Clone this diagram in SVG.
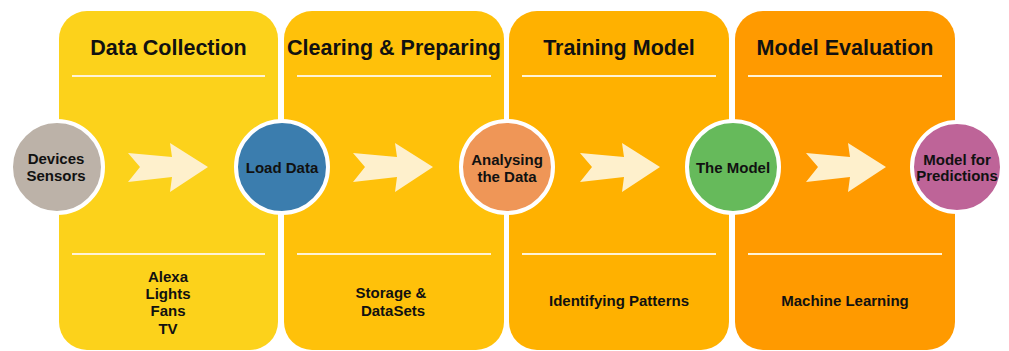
<svg xmlns="http://www.w3.org/2000/svg" width="1009" height="351" viewBox="0 0 1009 351">
<defs>
<style>
.hdr{font-family:"Liberation Sans",Arial,sans-serif;font-weight:bold;font-size:21.5px;fill:#111;text-anchor:middle}
.lbl{font-family:"Liberation Sans",Arial,sans-serif;font-weight:bold;font-size:15px;fill:#111;text-anchor:middle}
.sep{stroke:#FFF3D6;stroke-width:2}
.node{stroke:#fff;stroke-width:4}
.arr{fill:#FEF0CC}
</style>
<polygon id="arrowShape" class="arr" points="0,153 44,157 42,143 80,167 42,192 44,177 0,182 12,167"/>
</defs>
<rect width="1009" height="351" fill="#fff"/>
<g id="stage1">
<rect x="59" y="11" width="219" height="339" rx="28" fill="#FCD21B"/>
<text class="hdr" x="168.5" y="55">Data Collection</text>
<line class="sep" x1="72" y1="76" x2="265" y2="76"/>
<line class="sep" x1="72" y1="254" x2="265" y2="254"/>
<text class="lbl" x="168" y="282">Alexa</text>
<text class="lbl" x="168" y="299">Lights</text>
<text class="lbl" x="168" y="316">Fans</text>
<text class="lbl" x="168" y="334">TV</text>
</g>
<g id="stage2">
<rect x="284" y="11" width="220" height="339" rx="28" fill="#FFC10A"/>
<text class="hdr" x="394" y="55">Clearing &amp; Preparing</text>
<line class="sep" x1="297" y1="76" x2="491" y2="76"/>
<line class="sep" x1="297" y1="254" x2="491" y2="254"/>
<text class="lbl" x="391" y="298">Storage &amp;</text>
<text class="lbl" x="393" y="316">DataSets</text>
</g>
<g id="stage3">
<rect x="509" y="11" width="220" height="339" rx="28" fill="#FFB100"/>
<text class="hdr" x="619" y="55">Training Model</text>
<line class="sep" x1="522" y1="76" x2="716" y2="76"/>
<line class="sep" x1="522" y1="254" x2="716" y2="254"/>
<text class="lbl" x="619" y="306">Identifying Patterns</text>
</g>
<g id="stage4">
<rect x="735" y="11" width="220" height="339" rx="28" fill="#FF9A00"/>
<text class="hdr" x="845" y="55">Model Evaluation</text>
<line class="sep" x1="748" y1="76" x2="942" y2="76"/>
<line class="sep" x1="748" y1="254" x2="942" y2="254"/>
<text class="lbl" x="845" y="306">Machine Learning</text>
</g>
<g id="connectors">
<use href="#arrowShape" x="128"/>
<use href="#arrowShape" x="353"/>
<use href="#arrowShape" x="580"/>
<use href="#arrowShape" x="806"/>
</g>
<g id="devices">
<circle class="node" cx="57" cy="167" r="46" fill="#BCB2A8"/>
<text class="lbl" x="56" y="164">Devices</text>
<text class="lbl" x="56" y="181">Sensors</text>
</g>
<g id="load">
<circle class="node" cx="282" cy="167" r="46" fill="#3B7DAE"/>
<text class="lbl" x="282" y="173">Load Data</text>
</g>
<g id="analysing">
<circle class="node" cx="507" cy="167" r="46" fill="#EF9657"/>
<text class="lbl" x="507" y="165">Analysing</text>
<text class="lbl" x="507" y="182">the Data</text>
</g>
<g id="model">
<circle class="node" cx="733" cy="167" r="46" fill="#66BA5B"/>
<text class="lbl" x="733" y="173">The Model</text>
</g>
<g id="predictions">
<circle class="node" cx="957" cy="167" r="45" fill="#BE6498"/>
<text class="lbl" x="957" y="165">Model for</text>
<text class="lbl" x="957" y="181">Predictions</text>
</g>
</svg>
